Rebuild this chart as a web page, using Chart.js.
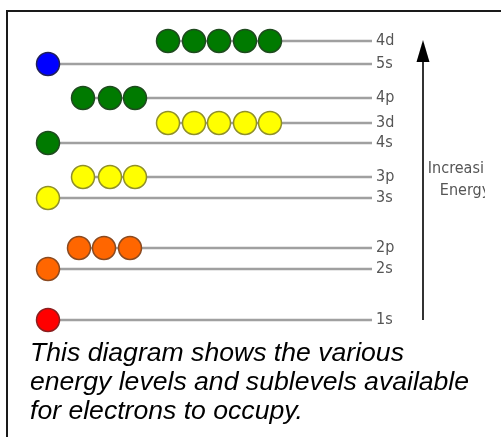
<!DOCTYPE html>
<html>
<head>
<meta charset="utf-8">
<script src="https://cdn.jsdelivr.net/npm/chart.js@4/dist/chart.umd.min.js"></script>
<style>
    html, body { margin: 0; padding: 0; background: #fff; }
    body { width: 501px; height: 437px; position: relative; overflow: hidden; }
    .frame {
        position: absolute; left: 6px; top: 10px; right: 0; bottom: 0;
        border-top: 2px solid #1a1a1a; border-left: 2px solid #1a1a1a;
    }
    #levelChart { position: absolute; left: 0; top: 0; }
    .caption {
        position: absolute; left: 30px; top: 338px;
        font-family: "Liberation Sans", Arial, sans-serif;
        font-style: italic; font-size: 26.6px; line-height: 29px; color: #000;
        white-space: nowrap;
    }
</style>
</head>
<body>
<div class="frame"></div>
<canvas id="levelChart" width="485" height="345"></canvas>
<div class="caption">This diagram shows the various<br>energy levels and sublevels available<br>for electrons to occupy.</div>
<script>
// sublevels, lowest energy first
const levels = ['1s', '2s', '2p', '3s', '3p', '4s', '3d', '4p', '5s', '4d'];
const energies = [1.0, 6.1, 8.2, 13.2, 15.3, 18.7, 20.7, 23.2, 26.6, 28.9];
// x position of each electron circle on a level
const electronX = [
    [28],
    [28],
    [59, 84, 110],
    [28],
    [63, 90, 115],
    [28],
    [148, 174, 199, 225, 250],
    [63, 90, 115],
    [28],
    [148, 174, 199, 225, 250]
];
const fillColors = ['#ff0000', '#ff6600', '#ff6600', '#ffff00', '#ffff00', '#007a00', '#ffff00', '#007a00', '#0000ff', '#007a00'];
const edgeColors = ['#8a2020', '#8a4a20', '#8a4a20', '#8f8f2a', '#8f8f2a', '#1f4a1f', '#8f8f2a', '#1f4a1f', '#20205a', '#1f4a1f'];
const lineEnd = 352;
const arrowTop = 29.0;
const labelFont = 'DejaVu Sans Condensed';

// one grey line per sublevel
const lineSets = levels.map((name, i) => ({
    type: 'line',
    label: name,
    data: [{ x: electronX[i][0], y: energies[i] }, { x: lineEnd, y: energies[i] }],
    borderColor: '#a0a0a0',
    borderWidth: 2.5,
    pointRadius: 0,
    order: 2
}));

// electrons as circles on top of the lines
const electrons = [];
const pointFill = [];
const pointEdge = [];
electronX.forEach((xs, i) => {
    xs.forEach(x => {
        electrons.push({ x: x, y: energies[i] });
        pointFill.push(fillColors[i]);
        pointEdge.push(edgeColors[i]);
    });
});

const energyArrow = {
    id: 'energyArrow',
    afterDraw(chart) {
        const { ctx, chartArea, scales } = chart;
        const x = chartArea.right + 51;
        const bottom = scales.y.getPixelForValue(energies[0]);
        const top = scales.y.getPixelForValue(arrowTop);
        ctx.save();
        ctx.strokeStyle = '#333';
        ctx.lineWidth = 2;
        ctx.beginPath();
        ctx.moveTo(x, bottom);
        ctx.lineTo(x, top + 18);
        ctx.stroke();
        ctx.fillStyle = '#000';
        ctx.beginPath();
        ctx.moveTo(x, top);
        ctx.lineTo(x - 6.5, top + 22);
        ctx.lineTo(x + 6.5, top + 22);
        ctx.closePath();
        ctx.fill();

        ctx.fillStyle = '#555';
        ctx.font = '16px "' + labelFont + '"';
        ctx.textAlign = 'center';
        ctx.textBaseline = 'middle';
        ctx.fillText('Increasing', x + 42, scales.y.getPixelForValue(16.1));
        ctx.fillText('Energy', x + 42, scales.y.getPixelForValue(13.9));
        ctx.restore();
    }
};

new Chart(document.getElementById('levelChart'), {
    type: 'scatter',
    data: {
        datasets: [{
            label: 'electrons',
            data: electrons,
            pointRadius: 11.5,
            pointBackgroundColor: pointFill,
            pointBorderColor: pointEdge,
            pointBorderWidth: 1.5,
            clip: false,
            order: 1
        }, ...lineSets]
    },
    options: {
        responsive: false,
        animation: false,
        layout: { padding: { left: 20, right: 83, top: 20, bottom: 15 } },
        plugins: {
            legend: { display: false },
            tooltip: { enabled: false }
        },
        scales: {
            x: { type: 'linear', min: 0, max: lineEnd, display: false },
            y: {
                type: 'linear',
                position: 'right',
                min: 0,
                max: 31,
                grid: { display: false, drawTicks: false },
                border: { display: false },
                afterBuildTicks: (scale) => {
                    scale.ticks = energies.map(v => ({ value: v }));
                },
                afterFit: (scale) => { scale.width = 30; },
                ticks: {
                    autoSkip: false,
                    padding: 4,
                    color: '#555',
                    font: { family: labelFont, size: 16 },
                    callback: (value) => levels[energies.indexOf(value)]
                }
            }
        }
    },
    plugins: [energyArrow]
});
</script>
</body>
</html>
